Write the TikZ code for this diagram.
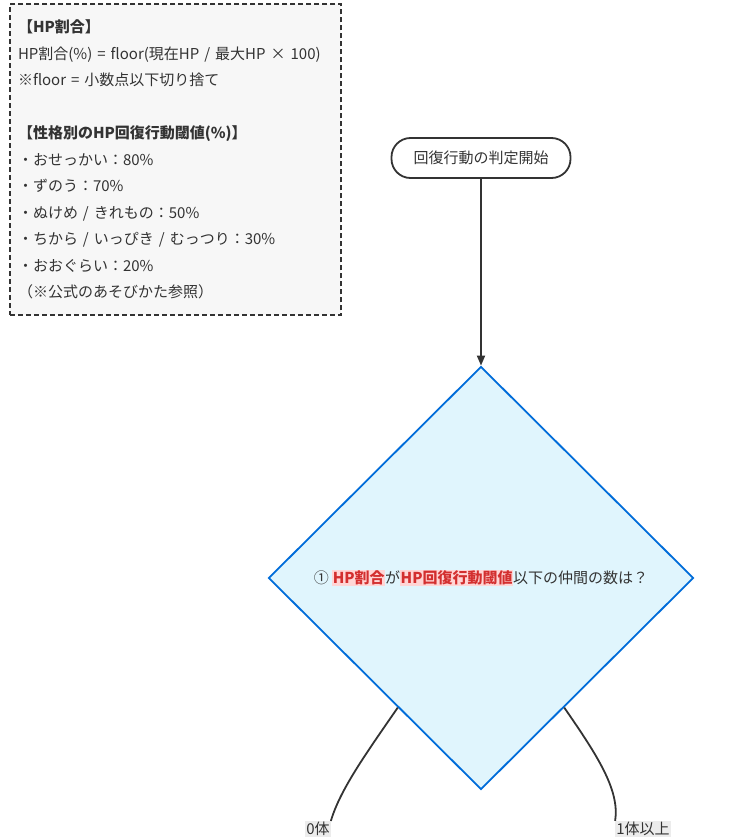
\documentclass[tikz,border=0pt]{standalone}
\usepackage{fontspec}
\setmainfont{Noto Sans CJK JP}
\usetikzlibrary{arrows.meta,shapes.geometric,positioning,calc}
\definecolor{inkgray}{HTML}{333333}
\definecolor{hlred}{HTML}{D32F2F}
\definecolor{hlpink}{HTML}{FFD6D6}
\newcommand{\hl}[1]{{\setlength{\fboxsep}{0.5pt}\colorbox{hlpink}{\textcolor{hlred}{\bfseries #1}}}}
\tikzset{
  note/.style={draw=inkgray, dash pattern=on 5pt off 3pt, line width=1.8pt, fill=gray!6, align=left, text=inkgray,
    minimum width=331pt, minimum height=311pt, inner sep=8pt, text width=315pt},
  start/.style={draw=inkgray, line width=1.8pt, rounded corners=19pt, fill=white, text=inkgray,
    minimum width=179pt, minimum height=40pt},
  decision/.style={diamond, draw=blue!50!cyan!85!black, line width=1.8pt, fill=cyan!12, text=inkgray,
    minimum width=425pt, minimum height=423pt, inner sep=0pt},
  lbl/.style={fill=gray!15, inner sep=1pt, text=inkgray},
  link/.style={draw=inkgray, line width=1.8pt}
}
\begin{document}
\begin{tikzpicture}[x=1pt, y=-1pt, font=\fontsize{15}{26.5}\selectfont]
  \useasboundingbox (0,0) rectangle (749,838);
  \node[note] (memo) at (175.5,159.5) {%
    \textbf{【HP割合】}\\
    HP割合(\%) = floor(現在HP / 最大HP × 100)\\
    ※floor = 小数点以下切り捨て\\[26.5pt]
    \textbf{【性格別のHP回復行動閾値(\%)】}\\
    ・おせっかい：80\%\\
    ・ずのう：70\%\\
    ・ぬけめ / きれもの：50\%\\
    ・ちから / いっぴき / むっつり：30\%\\
    ・おおぐらい：20\%\\
    （※公式のあそびかた参照）};
  \node[start] (begin) at (481,158) {回復行動の判定開始};
  \node[decision] (q1) at (481,578)
    {① \hl{HP割合}が\hl{HP回復行動閾値}以下の仲間の数は？};
  \node[lbl] (none) at (318,829) {0体};
  \node[lbl] (some) at (643,829) {1体以上};
  \draw[link, -{Triangle[length=10pt,width=8pt]}] (begin) -- (q1.north);
  \draw[link] ($(q1.west)!0.61!(q1.south)$) .. controls (365,755) and (340,790) .. (none.north east);
  \draw[link] ($(q1.east)!0.61!(q1.south)$) .. controls (597,755) and (620,790) .. (some.north west);
\end{tikzpicture}
\end{document}
